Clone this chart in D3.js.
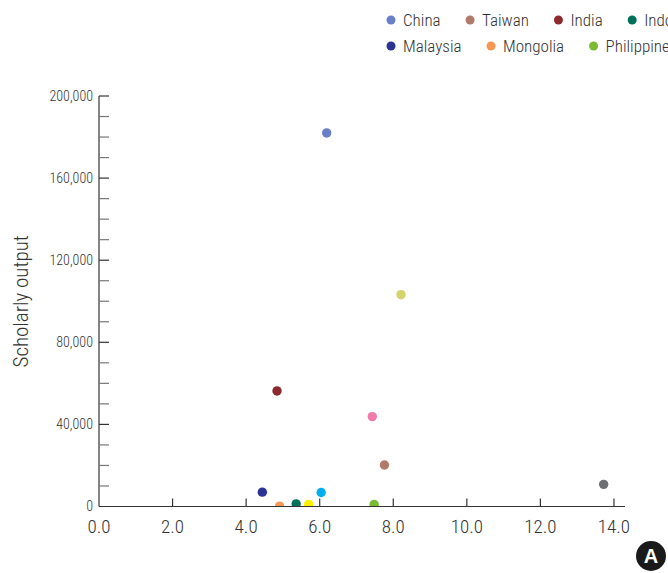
<!DOCTYPE html>
<html>
<head>
<meta charset="utf-8">
<script src="https://cdn.jsdelivr.net/npm/d3@7"></script>
<style>
  html, body { margin: 0; padding: 0; background: #fff; overflow: hidden; }
  svg { display: block; }
  text { font-family: "Roboto Condensed", "Liberation Sans Narrow", "Arial Narrow", sans-serif; font-weight: 300; fill: #333; }
</style>
</head>
<body>
<svg id="chart" width="668" height="573"></svg>
<script>
// Countries, in legend order (the legend runs past the right edge)
const countries = ["China", "Taiwan", "India", "Indonesia", "Japan", "Korea",
                   "Malaysia", "Mongolia", "Philippines", "Singapore", "Thailand", "Vietnam"];
const colors = ["#6a80c6", "#b27a6b", "#8b2b30", "#00705b", "#d3d46c", "#f27aab",
                "#2c3393", "#f89752", "#7bba35", "#6e6f72", "#00aeef", "#fff000"];
// x value per country
const xValues = [6.19, 7.76, 4.84, 5.36, 8.21, 7.43,
                 4.44, 4.91, 7.48, 13.72, 6.04, 5.70];
// Scholarly output per country
const yValues = [182000, 20200, 56300, 1300, 103200, 43800,
                 7000, 150, 1000, 10800, 6800, 1000];
// legend rows (entries that fit in the frame)
const legendRows = [["China", "Taiwan", "India", "Indonesia"],
                    ["Malaysia", "Mongolia", "Philippines"]];
const xTicks = [0, 2, 4, 6, 8, 10, 12, 14];
const yMajorTicks = [0, 40000, 80000, 120000, 160000, 200000];
const yMinorTicks = d3.range(10000, 200000, 10000).filter(v => v % 40000 !== 0);

const svg = d3.select("#chart");
const x0 = 99, x1 = 625, y0 = 506.5, yTop = 96;
const x = d3.scaleLinear().domain([0, 14.3]).range([x0, x1]);
const y = d3.scaleLinear().domain([0, 200000]).range([y0, yTop]);

// clip points to the plot area so dots on the baseline sit half above the axis
svg.append("clipPath").attr("id", "plot")
  .append("rect").attr("x", x0).attr("y", 0).attr("width", x1 - x0 + 20).attr("height", y0);

svg.append("g").attr("clip-path", "url(#plot)")
  .selectAll("circle")
  .data(countries.map((c, i) => ({ c, x: xValues[i], y: yValues[i], col: colors[i] })))
  .join("circle")
  .attr("cx", d => x(d.x))
  .attr("cy", d => y(d.y))
  .attr("r", 4.7)
  .attr("fill", d => d.col);

// y axis: ticks pointing into the plot
const yAxis = svg.append("g").attr("transform", `translate(${x0},0)`);
yAxis.append("line").attr("x1", 0).attr("x2", 0).attr("y1", yTop).attr("y2", y0)
  .attr("stroke", "#333").attr("stroke-width", 1.2);
yAxis.selectAll("line.minor").data(yMinorTicks).join("line").attr("class", "minor")
  .attr("x1", 0).attr("x2", 10).attr("y1", d => y(d)).attr("y2", d => y(d))
  .attr("stroke", "#777").attr("stroke-width", 1.2);
yAxis.selectAll("line.major").data(yMajorTicks.filter(v => v > 0)).join("line").attr("class", "major")
  .attr("x1", 0).attr("x2", 10).attr("y1", d => y(d)).attr("y2", d => y(d))
  .attr("stroke", "#333").attr("stroke-width", 1.2);
yAxis.selectAll("text").data(yMajorTicks).join("text")
  .attr("x", -6).attr("y", d => y(d)).attr("dy", "0.35em")
  .attr("text-anchor", "end").attr("font-size", 14)
  .text(d => d3.format(",")(d));

// x axis: ticks pointing up
const xAxis = svg.append("g").attr("transform", `translate(0,${y0})`);
xAxis.append("line").attr("x1", x0).attr("x2", x1).attr("y1", 0).attr("y2", 0)
  .attr("stroke", "#333").attr("stroke-width", 1.2);
xAxis.selectAll("line.tick").data(xTicks.filter(v => v > 0)).join("line").attr("class", "tick")
  .attr("x1", d => x(d)).attr("x2", d => x(d)).attr("y1", 0).attr("y2", -8)
  .attr("stroke", "#333").attr("stroke-width", 1.2);
xAxis.selectAll("text").data(xTicks).join("text")
  .attr("x", d => x(d)).attr("y", 26)
  .attr("text-anchor", "middle").attr("font-size", 19)
  .text(d => d.toFixed(1));

// y axis title
svg.append("text")
  .attr("transform", `translate(28,${(yTop + y0) / 2}) rotate(-90)`)
  .attr("text-anchor", "middle").attr("font-size", 21)
  .text("Scholarly output");

// legend: two flowing rows
legendRows.forEach((row, r) => {
  let cx = 391;
  const cy = r === 0 ? 20 : 46;
  row.forEach(name => {
    const i = countries.indexOf(name);
    svg.append("circle").attr("cx", cx).attr("cy", cy).attr("r", 4.5).attr("fill", colors[i]);
    const t = svg.append("text").attr("x", cx + 12).attr("y", cy).attr("dy", "0.36em")
      .attr("font-size", 17).text(name);
    cx += 12 + t.node().getComputedTextLength() + 29.5;
  });
});

// panel badge
svg.append("circle").attr("cx", 651).attr("cy", 556).attr("r", 15).attr("fill", "#1a1a1a");
svg.append("text").attr("x", 651).attr("y", 556).attr("dy", "0.36em")
  .attr("text-anchor", "middle").attr("font-size", 20).attr("font-weight", "bold")
  .style("font-family", "'Liberation Sans', Arial, sans-serif").style("font-weight", "bold").style("fill", "#fff")
  .text("A");
</script>
</body>
</html>
